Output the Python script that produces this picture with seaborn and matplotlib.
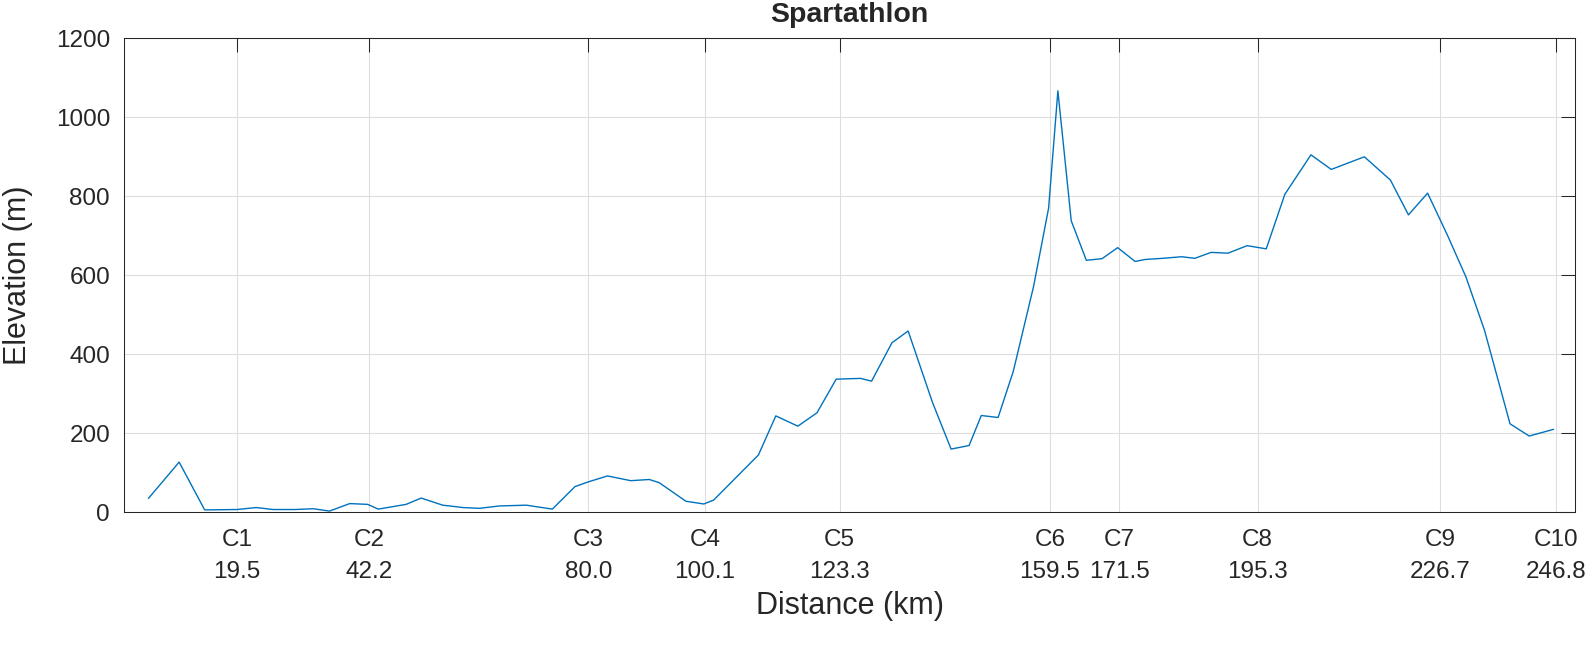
import numpy as np
import pandas as pd
import matplotlib
matplotlib.use("Agg")
import matplotlib.pyplot as plt
import seaborn as sns

# elevation profile
distancia = [4.2, 9.5, 13.9, 19.5, 22.8, 25.7, 29.5, 32.6, 35.4, 38.9,
             42.0, 43.8, 48.6, 51.2, 54.9, 58.4, 61.2, 64.7, 69.3, 73.8,
             77.7, 80.0, 83.3, 87.3, 90.5, 92.2, 96.8, 99.9, 101.6, 109.3,
             112.3, 116.1, 119.4, 122.7, 126.9, 128.8, 132.3, 135.1, 139.3, 142.5,
             145.6, 147.7, 150.6, 153.2, 156.7, 159.3, 160.9, 163.2, 165.8, 168.5,
             171.2, 174.2, 175.9, 179.0, 182.2, 184.5, 187.3, 190.2, 193.5, 196.8,
             200.0, 204.5, 208.0, 213.7, 218.2, 221.3, 224.6, 228.0, 231.2, 234.4,
             238.8, 242.1, 246.3]
elevacion = [35, 127, 6, 7, 12, 7, 7, 9, 3, 22,
             20, 8, 20, 36, 18, 12, 10, 16, 18, 8,
             65, 77, 92, 80, 83, 75, 28, 21, 31, 145,
             244, 218, 252, 337, 339, 332, 429, 459, 278, 160,
             169, 245, 240, 356, 571, 770, 1067, 738, 638, 642,
             670, 635, 640, 643, 647, 643, 658, 656, 675, 667,
             805, 905, 868, 900, 841, 753, 808, 702, 596, 461,
             224, 193, 210]

# checkpoints
cp_nombres = ["C1", "C2", "C3", "C4", "C5", "C6", "C7", "C8", "C9", "C10"]
cp_km = [19.5, 42.2, 80.0, 100.1, 123.3, 159.5, 171.5, 195.3, 226.7, 246.8]
y_ticks = [0, 200, 400, 600, 800, 1000, 1200]


def main():
    sns.set_style("white")
    plt.rcParams['font.family'] = ['Liberation Sans', 'DejaVu Sans']

    df = pd.DataFrame({'km': distancia, 'elev': elevacion})

    fig = plt.figure(figsize=(15.94, 6.46), dpi=100)
    ax = fig.add_axes([0.0778, 0.2070, 0.9103, 0.7337])

    sns.lineplot(data=df, x='km', y='elev', ax=ax, color='#0072BD',
                 linewidth=1.0, sort=False)

    ax.set_xlim(0, 250)
    ax.set_ylim(0, 1200)
    ax.set_xticks(cp_km)
    ax.set_xticklabels([f"{n}\n{k:.1f}" for n, k in zip(cp_nombres, cp_km)])
    ax.set_yticks(y_ticks)
    plt.setp(ax.get_xticklabels(), linespacing=1.6)

    ax.grid(True, color='#dedede', linewidth=0.8)
    ax.set_axisbelow(True)
    for s in ax.spines.values():
        s.set_visible(True)
        s.set_color('#262626')
        s.set_linewidth(0.75)

    ax.tick_params(direction='in', length=10, width=0.75, top=True, right=True,
                   color='#262626', labelcolor='#262626', labelsize=17.5)
    ax.tick_params(axis='x', pad=12)
    ax.tick_params(axis='y', pad=10)

    ax.set_title("Spartathlon", fontsize=20.5, fontweight='bold', pad=11.5)
    ax.set_xlabel("Distance (km)", fontsize=22, color='#262626')
    ax.set_ylabel("Elevation (m)", fontsize=22, color='#262626')
    ax.xaxis.set_label_coords(0.5, -0.167)
    ax.yaxis.set_label_coords(-0.063, 0.5)

    fig.savefig('out.png', dpi=100)


if __name__ == '__main__':
    main()
